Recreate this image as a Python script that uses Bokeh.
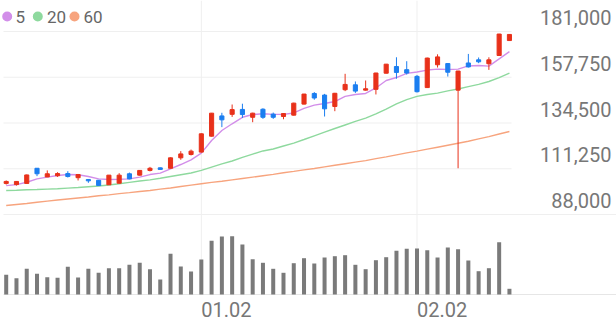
import numpy as np
from bokeh.plotting import figure
from bokeh.models import Range1d
from bokeh.core.properties import value
from bokeh.embed import file_html
from bokeh.resources import INLINE

# ---------------- data ----------------
x_tick_idx = [19, 40]
x_tick_labels = ["01.02", "02.02"]
y_ticks = [88000, 111250, 134500, 157750, 181000]
ma_names = ["5", "20", "60"]

opens = [103800, 103200, 103800, 111500, 107100, 107700, 108800, 106700, 105800, 105400,
         103100, 103900, 108700, 108000, 110400, 111700, 111500, 116800, 118500, 119700,
         127800, 138100, 138900, 141400, 137400, 141500, 139000, 137800, 138500, 144100,
         149500, 148700, 142900, 151400, 153900, 151200, 151600, 159800, 163200, 161600,
         158200, 152500, 164100, 164700, 151200, 165000, 166600, 164600, 168800, 176400]
highs = [105300, 105000, 108300, 111600, 110400, 109500, 110000, 108600, 105900, 105500,
         108100, 109000, 109300, 110500, 112200, 111900, 117000, 120200, 121000, 129200,
         139600, 139700, 143900, 144300, 139700, 142000, 139800, 139500, 144800, 149300,
         150200, 149300, 149800, 159500, 155600, 156100, 160000, 164500, 167900, 165900,
         158900, 167700, 169400, 164900, 161000, 169600, 167800, 167900, 179800, 179600]
lows = [103200, 102700, 103700, 107500, 107000, 107100, 106800, 105300, 104100, 102600,
        103000, 103800, 105900, 107800, 109900, 110700, 111400, 115800, 118000, 119500,
        127600, 132400, 137600, 137100, 134900, 136600, 136600, 136400, 138300, 143900,
        146300, 137800, 140500, 150700, 149800, 151000, 149000, 159700, 157000, 159100,
        150000, 152400, 162700, 158100, 111500, 162700, 164900, 161500, 168800, 176400]
closes = [104800, 104800, 108100, 108700, 108700, 108800, 107300, 108300, 105100, 102700,
          108000, 108000, 106100, 110400, 111500, 110900, 116800, 118800, 120200, 129000,
          139500, 136100, 141300, 138800, 139500, 137400, 137400, 139300, 144600, 149200,
          147200, 141700, 149600, 154100, 150700, 151900, 159900, 164400, 160200, 159900,
          150400, 167500, 168100, 160300, 160900, 163000, 165600, 166600, 179700, 179500]
volumes = [197000, 163000, 257000, 207000, 173000, 167000, 277000, 170000, 257000, 217000,
           263000, 263000, 297000, 317000, 253000, 150000, 407000, 280000, 230000, 350000,
           537000, 580000, 583000, 500000, 353000, 317000, 257000, 217000, 313000, 363000,
           310000, 370000, 383000, 393000, 297000, 253000, 343000, 373000, 437000, 457000,
           460000, 443000, 370000, 470000, 453000, 340000, 233000, 263000, 523000, 57000]
ma5 = [102700, 103200, 104400, 106100, 107000, 107800, 108300, 108200, 107300, 106100,
       105800, 105900, 106100, 107000, 108300, 109000, 111200, 113400, 115800, 119200,
       125600, 130700, 134100, 137400, 138800, 139200, 138900, 138900, 139600, 141900,
       143600, 144400, 145400, 148000, 149000, 149500, 152300, 156100, 157600, 159700,
       160400, 161400, 161900, 161700, 161900, 163500, 163700, 163400, 167100, 170800]
ma20 = [100200, 100300, 100600, 100700, 100900, 101100, 101400, 101700, 102100, 102500,
        103000, 103600, 104300, 105000, 105600, 106400, 107300, 108200, 109100, 110400,
        112100, 113700, 115200, 117000, 118700, 120300, 121300, 122800, 124300, 126100,
        128000, 129900, 131700, 133500, 135300, 137000, 139100, 141600, 144200, 146400,
        148000, 149000, 149700, 150800, 151800, 153000, 154100, 155600, 157600, 159900]
ma60 = [92600, 93100, 93600, 94200, 94800, 95400, 95900, 96400, 96900, 97500,
        98000, 98600, 99100, 99700, 100200, 100900, 101500, 102200, 102900, 103600,
        104300, 104900, 105600, 106300, 107000, 107700, 108400, 109200, 109900, 110700,
        111400, 112200, 113000, 113800, 114600, 115400, 116400, 117300, 118300, 119300,
        120200, 121200, 122200, 123200, 124200, 125200, 126400, 127600, 128900, 130200]

# ---------------- layout / style ----------------
W, H = 616, 321
X0_PX, STEP_PX = 5.7, 10.27          # pixel of first candle, pixels per candle
GRID_TOP_PX, GRID_BOT_PX = 31, 214   # pixel rows of top / bottom price grid lines
VOL_BASE_PX, VOL_PER_PX = 294, 10000

RED, BLUE = "#e8311a", "#1b7ef0"
MA_COLORS = ["#d28ee9", "#8ed99e", "#f7a47e"]
GRID = "#efefef"
TXT = "#777777"
FONT = value("Roboto")


def ix(px):
    return (px - X0_PX) / STEP_PX


PRICE_PER_PX = (y_ticks[-1] - y_ticks[0]) / (GRID_BOT_PX - GRID_TOP_PX)


def pr(py):
    return y_ticks[-1] - (py - GRID_TOP_PX) * PRICE_PER_PX


def vo(py):
    return (VOL_BASE_PX - py) * VOL_PER_PX


p = figure(width=W, height=H, x_range=Range1d(ix(0), ix(W)),
           y_range=Range1d(pr(H), pr(0)), output_backend="svg",
           toolbar_location=None, x_axis_location=None, y_axis_location=None,
           min_border=0, outline_line_color=None, background_fill_color="white",
           border_fill_color="white")
p.extra_y_ranges = {"vol": Range1d(vo(H), vo(0))}
p.grid.visible = False

# grid lines
p.segment(x0=[ix(3)] * 4, x1=[ix(511)] * 4, y0=y_ticks[1:], y1=y_ticks[1:],
          line_color=GRID, line_width=1)
p.segment(x0=[ix(3)], x1=[ix(W)], y0=[y_ticks[0]], y1=[y_ticks[0]],
          line_color=GRID, line_width=1)
p.segment(x0=x_tick_idx, x1=x_tick_idx, y0=[0, 0], y1=[vo(0)] * 2,
          y_range_name="vol", line_color=GRID, line_width=1)
p.segment(x0=[ix(3)], x1=[ix(W)], y0=[0], y1=[0], y_range_name="vol",
          line_color="#e6e6e6", line_width=1)

idx = np.arange(len(closes))
o = np.array(opens)
c = np.array(closes)
colors = np.where(c >= o, RED, BLUE).tolist()

# volume
p.vbar(x=idx, width=0.39, top=volumes, bottom=0, y_range_name="vol",
       fill_color="#7a7a7a", line_color=None)

# moving averages
for ma, col in zip([ma60, ma20, ma5], MA_COLORS[::-1]):
    p.line(idx, ma, line_color=col, line_width=1.4)

# candles
p.segment(x0=idx, x1=idx, y0=lows, y1=highs, line_color=colors, line_width=1)
p.vbar(x=idx, width=0.4, top=np.maximum(o, c), bottom=np.minimum(o, c),
       fill_color=colors, line_color=colors, line_width=1)

# price labels (above their grid lines)
p.text(x=[ix(611)] * len(y_ticks), y=y_ticks, text=[f"{v:,}" for v in y_ticks],
       text_align="right", text_baseline="middle", y_offset=-14,
       text_font=FONT, text_font_size="20px", text_color=TXT)

# date labels
p.text(x=x_tick_idx, y=[0, 0], text=x_tick_labels, y_range_name="vol",
       text_align="left", text_baseline="middle", y_offset=15,
       text_font=FONT, text_font_size="20px", text_color=TXT)

# legend
dot_px = [6.7, 37.3, 74.0]
lab_px = [15.0, 46.5, 83.0]
p.scatter(x=[ix(v) for v in dot_px], y=[pr(16)] * 3, size=10, marker="circle",
          fill_color=MA_COLORS, line_color=None)
p.text(x=[ix(v) for v in lab_px], y=[pr(16)] * 3, text=ma_names,
       text_align="left", text_baseline="middle", text_font=FONT,
       text_font_size="17px", text_color="#666666")

open("out.html", "w").write(file_html(p, INLINE))
